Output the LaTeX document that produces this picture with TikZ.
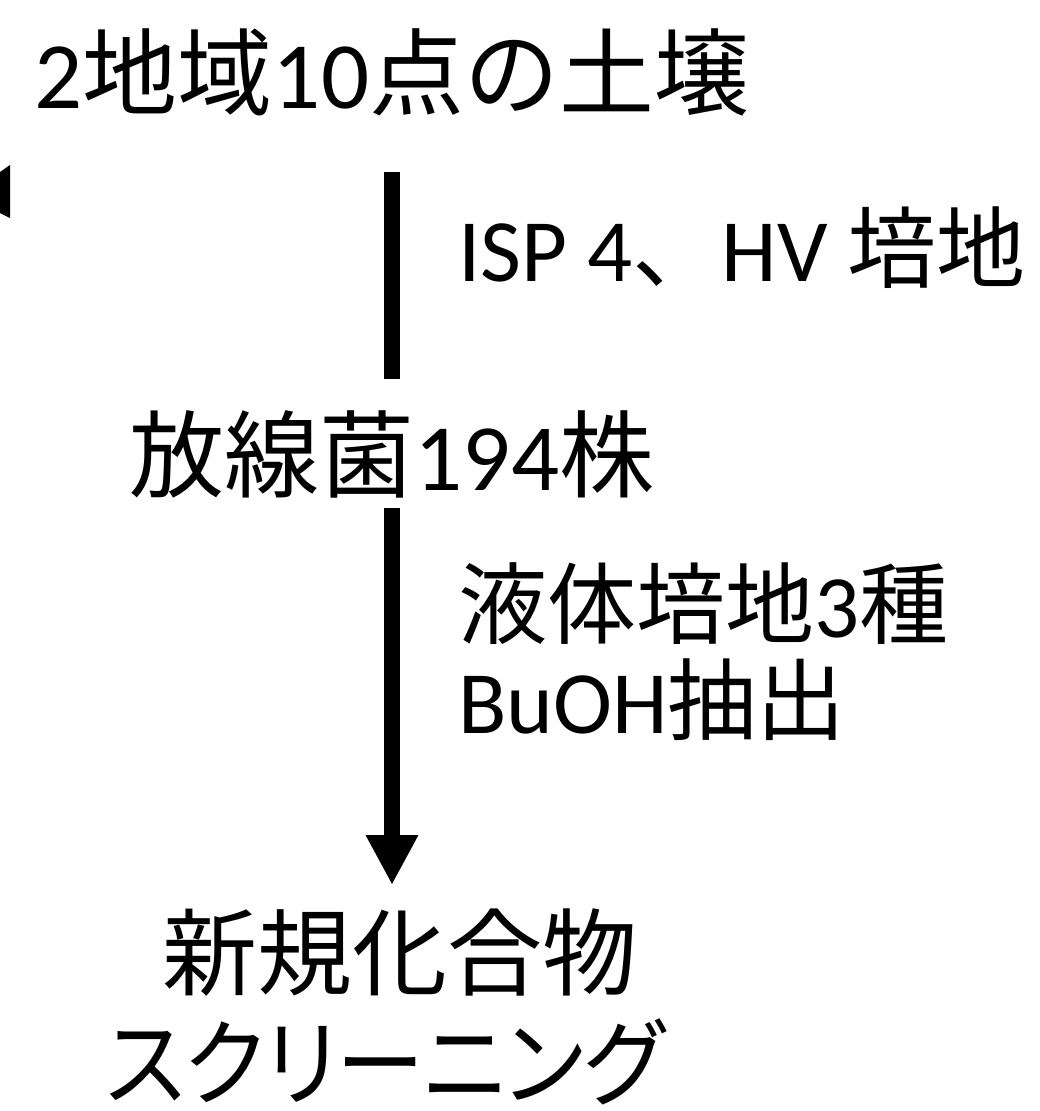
\documentclass[tikz,border=0pt]{standalone}
\usepackage{fontspec}
\setmainfont{Carlito}
\newfontfamily\cjk{Noto Sans CJK JP}
\newfontfamily\cjkp[RawFeature=+palt]{Noto Sans CJK JP}
\usetikzlibrary{arrows.meta}
\begin{document}
\begin{tikzpicture}[x=1pt,y=-1pt,
  txt/.style={inner sep=0pt,font=\fontsize{95pt}{95pt}\selectfont},
  lbl/.style={inner sep=0pt,anchor=base west,font=\fontsize{89pt}{89pt}\selectfont},
  shaft/.style={line width=16pt,line cap=butt}]
\fill[white] (0,0) rectangle (1040,1111);
\useasboundingbox (0,0) rectangle (1040,1111);
% fragment at left edge
\fill[black] (0,172) -- (10,165) -- (10,218) -- (0,213) -- cycle;
% texts
\node[txt,anchor=base] (soil) at (392,108) {2{\cjk 地域}10{\cjk 点の土壌}};
\node[lbl] (isp) at (458,281) {ISP 4{\cjk 、}HV {\cjk 培地}};
\node[txt,anchor=base] (act) at (392,490) {{\cjk 放線菌}194{\cjk 株}};
\node[lbl] (liq) at (458,637) {{\cjk 液体培地}3{\cjk 種}};
\node[lbl] (buoh) at (458,733) {BuOH{\cjk 抽出}};
\node[txt,anchor=base] (new) at (400,988) {\cjk 新規化合物};
\node[txt,anchor=base] (scr) at (385,1098) {\scalebox{0.93}[1]{\cjkp スクリーニング}};
% connectors
\draw[shaft,shorten <=64pt,shorten >=111pt] (soil.base) -- (act.base);
\draw[shaft,shorten <=18pt,shorten >=103pt,-{Triangle[width=49pt,length=50pt]}] (act.base) -- (act.base |- new.base);
\end{tikzpicture}
\end{document}
